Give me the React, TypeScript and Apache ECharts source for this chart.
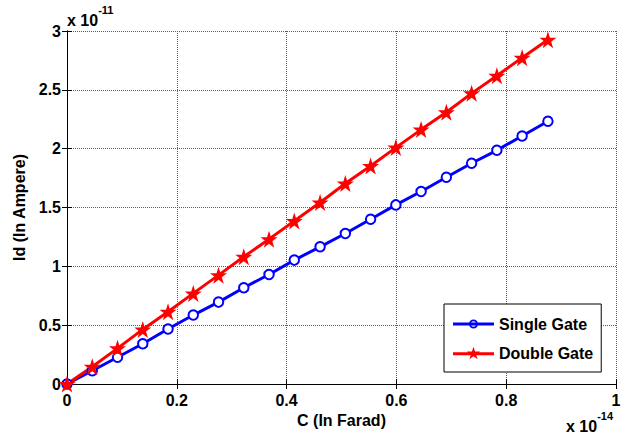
import React, { useEffect, useRef } from "react";
import * as echarts from "echarts";

const cValues = [0, 0.046, 0.092, 0.138, 0.184, 0.23, 0.276, 0.322, 0.368, 0.414, 0.461, 0.507, 0.553, 0.599, 0.645, 0.691, 0.737, 0.783, 0.829, 0.876];
const singleGate = [0, 0.113, 0.227, 0.342, 0.467, 0.586, 0.696, 0.818, 0.931, 1.053, 1.166, 1.279, 1.4, 1.522, 1.636, 1.757, 1.876, 1.986, 2.108, 2.233];
const doubleGate = [0, 0.147, 0.303, 0.464, 0.614, 0.77, 0.925, 1.081, 1.231, 1.386, 1.542, 1.704, 1.853, 2.009, 2.162, 2.309, 2.47, 2.62, 2.773, 2.926];
const seriesNames = ["Single Gate", "Double Gate"];

const STAR = "path://M50,0L61.23,34.55L97.55,34.55L68.17,55.9L79.39,90.45L50,69.1L20.61,90.45L31.83,55.9L2.45,34.55L38.77,34.55Z";
const LEGEND_CIRCLE =
  "path://M0,5.5H41V8.5H0Z M16,7A4.5,4.5 0 1,1 25,7A4.5,4.5 0 1,1 16,7Z M17.8,7A2.7,2.7 0 1,0 23.2,7A2.7,2.7 0 1,0 17.8,7Z";
const LEGEND_STAR =
  "path://M0,5.5H41V8.5H0Z M20.5,0L22.07,4.84L27.16,4.84L23.04,7.83L24.61,12.66L20.5,9.67L16.39,12.66L17.96,7.83L13.84,4.84L18.93,4.84Z";
const FONT = "Liberation Sans, Arial, sans-serif";

export default function App() {
  const ref = useRef<HTMLDivElement>(null);
  useEffect(() => {
    if (!ref.current) return;
    const chart = echarts.init(ref.current, null, { renderer: "svg" });
    const labelStyle = { color: "#000", fontWeight: "bold" as const, fontSize: 16, fontFamily: FONT };
    const tick = { show: true, inside: true, length: 5, lineStyle: { color: "#000", width: 1 } };
    const line = { show: true, lineStyle: { color: "#000", width: 1 } };
    const split = { show: true, lineStyle: { color: "#5a5a5a", type: [1, 1] as any, width: 1 } };
    const rich = {
      a: { fontSize: 16, fontWeight: "bold", fontFamily: FONT, fill: "#000", verticalAlign: "bottom", padding: [8, 0, 0, 0] },
      b: { fontSize: 11, fontWeight: "bold", fontFamily: FONT, fill: "#000", verticalAlign: "top" },
    };
    chart.setOption({
      animation: false,
      backgroundColor: "#fff",
      grid: { left: 67, right: 11, top: 31, bottom: 51, containLabel: false },
      xAxis: [
        {
          type: "value", min: 0, max: 1, interval: 0.2,
          axisLine: line, axisTick: tick, splitLine: split,
          axisLabel: { ...labelStyle, margin: 8 },
          name: "C (In Farad)", nameLocation: "middle", nameGap: 28,
          nameTextStyle: { ...labelStyle },
        },
        {
          type: "value", min: 0, max: 1, interval: 0.2, position: "top",
          axisLine: line, axisTick: tick, splitLine: { show: false }, axisLabel: { show: false },
        },
      ],
      yAxis: [
        {
          type: "value", min: 0, max: 3, interval: 0.5,
          axisLine: line, axisTick: tick, splitLine: split,
          axisLabel: { ...labelStyle, margin: 6 },
          name: "Id (In Ampere)", nameLocation: "middle", nameGap: 35,
          nameTextStyle: { ...labelStyle },
        },
        {
          type: "value", min: 0, max: 3, interval: 0.5, position: "right",
          axisLine: line, axisTick: tick, splitLine: { show: false }, axisLabel: { show: false },
        },
      ],
      legend: {
        orient: "vertical", left: 444, top: 304,
        backgroundColor: "#fff", borderColor: "#000", borderWidth: 1,
        padding: [12, 8, 11, 9], itemGap: 13, itemWidth: 41, itemHeight: 14,
        itemStyle: { borderWidth: 0 },
        textStyle: { ...labelStyle },
        data: [
          { name: seriesNames[0], icon: LEGEND_CIRCLE },
          { name: seriesNames[1], icon: LEGEND_STAR },
        ],
      },
      series: [
        {
          name: seriesNames[0], type: "line",
          data: cValues.map((c, i) => [c, singleGate[i]]),
          lineStyle: { color: "#0000ff", width: 3 },
          itemStyle: { color: "#0000ff", borderColor: "#0000ff", borderWidth: 2.5 },
          symbol: "emptyCircle", symbolSize: 9.5,
        },
        {
          name: seriesNames[1], type: "line",
          data: cValues.map((c, i) => [c, doubleGate[i]]),
          lineStyle: { color: "#ff0000", width: 3 },
          itemStyle: { color: "#ff0000" },
          symbol: STAR, symbolSize: 17,
        },
      ],
      graphic: [
        { type: "text", left: 67, top: 4, style: { text: "{a|x 10}{b|-11}", rich } },
        { type: "text", left: 566, top: 410, style: { text: "{a|x 10}{b|-14}", rich } },
      ],
    });
    return () => chart.dispose();
  }, []);
  return <div ref={ref} style={{ width: 627, height: 435, position: "absolute", left: 0, top: 0 }} />;
}
